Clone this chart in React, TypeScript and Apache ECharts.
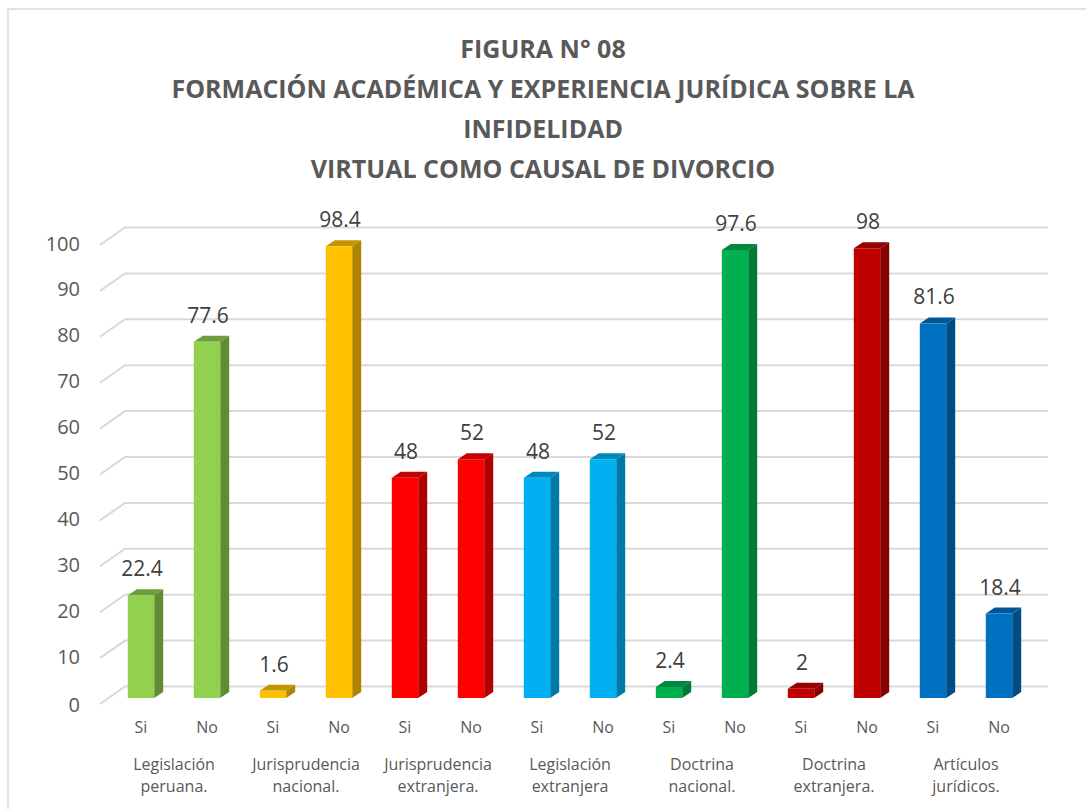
import React, { useEffect, useRef } from "react";
import * as echarts from "echarts";

const barCategories = ["Si", "No", "Si", "No", "Si", "No", "Si", "No", "Si", "No", "Si", "No", "Si", "No"];
const groupLabels = [
  "Legislación\nperuana.",
  "Jurisprudencia\nnacional.",
  "Jurisprudencia\nextranjera.",
  "Legislación\nextranjera",
  "Doctrina\nnacional.",
  "Doctrina\nextranjera.",
  "Artículos\njurídicos.",
];
const values = [22.4, 77.6, 1.6, 98.4, 48, 52, 48, 52, 2.4, 97.6, 2, 98, 81.6, 18.4];
const frontColors = ["#92D050", "#FFC000", "#FF0000", "#00B0F0", "#00B050", "#C00000", "#0070C0"];
const sideColors = ["#628C34", "#B08400", "#B00000", "#0079A6", "#007A37", "#850000", "#004D86"];
const topColors = ["#6E9E3B", "#C49500", "#C40000", "#0088BA", "#00893E", "#950000", "#005697"];
const yTicks = [0, 10, 20, 30, 40, 50, 60, 70, 80, 90, 100];
const titleText =
  "FIGURA N° 08\nFORMACIÓN ACADÉMICA Y EXPERIENCIA JURÍDICA SOBRE LA\nINFIDELIDAD\nVIRTUAL COMO CAUSAL DE DIVORCIO";

export default function App() {
  const ref = useRef<HTMLDivElement>(null);
  useEffect(() => {
    document.body.style.margin = "0";
    const chart = echarts.init(ref.current!, null, { renderer: "svg" });
    const font = "'Open Sans', 'Noto Sans', sans-serif";
    const depthX = 9;
    const depthY = 6;
    chart.setOption({
      animation: false,
      backgroundColor: "#ffffff",
      title: {
        text: titleText,
        left: "center",
        top: 23,
        textStyle: {
          fontFamily: font,
          fontSize: 25,
          fontWeight: "bold",
          color: "#595959",
          lineHeight: 40,
        },
      },
      graphic: [
        {
          type: "rect",
          shape: { x: 8, y: 9, width: 1200, height: 900 },
          style: { fill: "none", stroke: "#D9D9D9", lineWidth: 1.5 },
          silent: true,
        },
      ],
      grid: { left: 108, right: 54, top: 239, bottom: 111 },
      xAxis: [
        {
          type: "category",
          data: barCategories,
          axisLine: { show: false },
          axisTick: { show: false },
          axisLabel: { margin: 21, fontFamily: font, fontSize: 16, color: "#595959" },
        },
        {
          type: "category",
          data: groupLabels,
          position: "bottom",
          axisLine: { show: false },
          axisTick: { show: false },
          axisLabel: {
            margin: 55,
            fontFamily: font,
            fontSize: 16,
            lineHeight: 22,
            color: "#595959",
            interval: 0,
          },
        },
      ],
      yAxis: {
        type: "value",
        min: 0,
        max: 100,
        interval: 10,
        splitLine: { show: false },
        axisLine: { show: false },
        axisTick: { show: false },
        axisLabel: { show: false },
      },
      series: [
        {
          type: "custom",
          xAxisIndex: 0,
          z: 1,
          silent: true,
          data: yTicks.map((v) => [0, v]),
          encode: { x: 0, y: 1 },
          renderItem: (params: any, api: any) => {
            const cs = params.coordSys;
            const v = api.value(1);
            const p = api.coord([0, v]);
            const y = p[1];
            return {
              type: "group",
              children: [
                {
                  type: "polyline",
                  shape: {
                    points: [
                      [cs.x - 8, y + 6],
                      [cs.x + 17, y - 11.5],
                      [cs.x + cs.width + 16, y - 11.5],
                    ],
                  },
                  style: { stroke: "#D9D9D9", lineWidth: 2, fill: "none" },
                },
                {
                  type: "text",
                  x: cs.x - 28,
                  y: y + 4 + (v === 0 ? 2 : 0) ,
                  style: {
                    text: String(v),
                    fontFamily: font,
                    fontSize: 20,
                    fill: "#595959",
                    align: "right",
                    verticalAlign: "middle",
                  },
                },
              ],
            };
          },
        },
        {
          type: "custom",
          xAxisIndex: 0,
          z: 3,
          data: values.map((v, i) => [i, v]),
          encode: { x: 0, y: 1 },
          renderItem: (params: any, api: any) => {
            const idx = api.value(0);
            const val = api.value(1);
            const g = Math.floor(idx / 2);
            const top = api.coord([idx, val]);
            const base = api.coord([idx, 0]);
            const w = api.size([1, 0])[0] * 0.4;
            const x0 = top[0] - w / 2;
            const x1 = top[0] + w / 2;
            const yt = top[1];
            const yb = base[1];
            return {
              type: "group",
              children: [
                {
                  type: "polygon",
                  shape: {
                    points: [
                      [x1, yb],
                      [x1 + depthX, yb - depthY],
                      [x1 + depthX, yt - depthY],
                      [x1, yt],
                    ],
                  },
                  style: { fill: sideColors[g] },
                },
                {
                  type: "polygon",
                  shape: {
                    points: [
                      [x0, yt],
                      [x0 + depthX, yt - depthY],
                      [x1 + depthX, yt - depthY],
                      [x1, yt],
                    ],
                  },
                  style: { fill: topColors[g] },
                },
                {
                  type: "rect",
                  shape: { x: x0, y: yt, width: w, height: yb - yt },
                  style: { fill: frontColors[g] },
                },
                {
                  type: "text",
                  x: top[0] + 1,
                  y: yt - 27,
                  style: {
                    text: String(val),
                    fontFamily: font,
                    fontSize: 21,
                    fill: "#404040",
                    align: "center",
                    verticalAlign: "middle",
                  },
                },
              ],
            };
          },
        },
      ],
    });
    return () => chart.dispose();
  }, []);
  return <div ref={ref} style={{ width: 1086, height: 809 }} />;
}
